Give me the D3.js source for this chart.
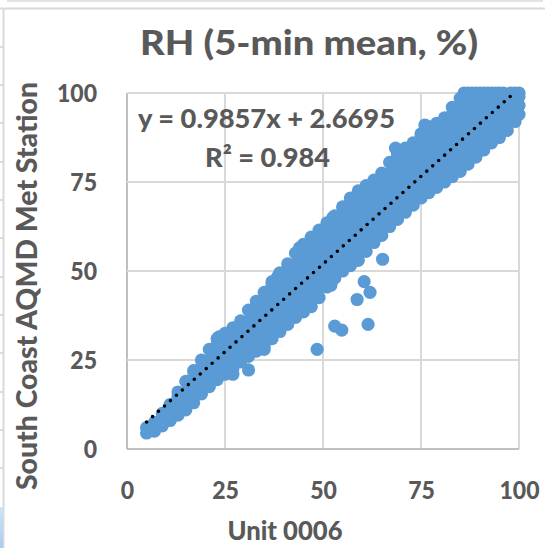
<!DOCTYPE html>
<html>
<head>
<meta charset="utf-8">
<script src="https://cdn.jsdelivr.net/npm/d3@7"></script>
<style>
  html, body { margin: 0; padding: 0; background: #fff; }
  svg { display: block; }
  text { font-family: Lato, "Open Sans", sans-serif; font-weight: bold; fill: #595959; }
</style>
</head>
<body>
<svg id="chart" width="545" height="548"></svg>
<script>
// RH 5-min means: Unit 0006 (x) vs South Coast AQMD Met Station (y)
// columns of the dense cloud: one x value, the y values read along it
var unitX = [5, 6, 7, 9, 11, 13, 15, 17, 19, 21, 23, 25, 27, 29, 31, 33, 35, 37, 39, 41,
  43, 45, 47, 49, 51, 53, 55, 57, 59, 61, 63, 65, 67, 69, 71, 73, 75, 77, 79, 81,
  83, 85, 87, 89, 91, 93, 95, 97, 99, 100];
var stationY = [
  [4.5, 6], [5.5], [5, 7.5], [6.5, 8.5, 10], [8, 10.5, 12.5],
  [9.5, 12, 14.5, 16], [11, 13.5, 16, 19], [13, 15.5, 18, 20.5, 22],
  [15.5, 18, 20.5, 23, 25], [17.5, 20, 22.5, 25, 28],
  [19.5, 22, 24.5, 27, 29.5, 31], [21, 23.5, 26, 28.5, 31, 32.5],
  [22.5, 25, 27.5, 30, 32.5, 34], [24.5, 27, 29.5, 32, 34.5, 36],
  [26, 28.5, 31, 33.5, 36, 39], [27.5, 30, 32.5, 35, 37.5, 40, 41.5],
  [29, 31.5, 34, 36.5, 39, 41.5, 44], [31, 33.5, 36, 38.5, 41, 43.5, 46, 47],
  [33, 35.5, 38, 40.5, 43, 45.5, 48, 49.5], [35, 37.5, 40, 42.5, 45, 47.5, 50, 52],
  [37, 39.5, 42, 44.5, 47, 49.5, 52, 55], [38.5, 41, 43.5, 46, 48.5, 51, 53.5, 56, 57.5],
  [40, 42.5, 45, 47.5, 50, 52.5, 55, 57.5, 59.5], [42.5, 45, 47.5, 50, 52.5, 55, 57.5, 60, 61.5],
  [45.5, 48, 50.5, 53, 55.5, 58, 60.5, 63.5], [48, 50.5, 53, 55.5, 58, 60.5, 63, 65.5],
  [50, 52.5, 55, 57.5, 60, 62.5, 65, 68], [51.5, 54, 56.5, 59, 61.5, 64, 66.5, 69, 70.5],
  [53, 55.5, 58, 60.5, 63, 65.5, 68, 70.5, 72.5], [55.5, 58, 60.5, 63, 65.5, 68, 70.5, 74],
  [58, 60.5, 63, 65.5, 68, 70.5, 73, 75.5], [60, 62.5, 65, 67.5, 70, 72.5, 75, 77.5],
  [62.5, 65, 67.5, 70, 72.5, 75, 77.5, 80.5], [64.5, 67, 69.5, 72, 74.5, 77, 79.5, 82, 83],
  [66.5, 69, 71.5, 74, 76.5, 79, 81.5, 84.5], [68.5, 71, 73.5, 76, 78.5, 81, 83.5, 86],
  [70.5, 73, 75.5, 78, 80.5, 83, 85.5, 88.5], [72, 74.5, 77, 79.5, 82, 84.5, 87, 89.5, 90.5],
  [73.5, 76, 78.5, 81, 83.5, 86, 88.5, 91.5], [75, 77.5, 80, 82.5, 85, 87.5, 90, 93],
  [76.5, 79, 81.5, 84, 86.5, 89, 91.5, 94, 96], [78, 80.5, 83, 85.5, 88, 90.5, 93, 95.5, 98.5],
  [80, 82.5, 85, 87.5, 90, 92.5, 95, 97.5, 100], [82, 84.5, 87, 89.5, 92, 94.5, 97, 100],
  [84, 86.5, 89, 91.5, 94, 96.5, 99, 100], [86, 88.5, 91, 93.5, 96, 98.5, 100],
  [87.5, 90, 92.5, 95, 97.5, 100], [89.5, 92, 94.5, 97, 99.5],
  [92, 94.5, 97, 99.5, 100], [94, 96.5, 99, 100]
];
// single points sticking out of the cloud edges
var edgeX = [23.5, 38.5, 44, 52.5, 68.5, 76, 86, 88, 90, 92, 94, 96, 98, 27, 52, 35];
var edgeY = [31.5, 48.5, 56.5, 65, 84.5, 91, 100, 100, 100, 100, 100, 100, 100, 21, 46, 28];
// points off the main cloud
var outlierX = [31, 48.5, 53, 54.8, 58.7, 60.5, 62, 61.5, 65.2];
var outlierY = [22.2, 28, 34.5, 33.4, 42, 47, 44, 35, 53.3];

var slope = 0.9857, intercept = 2.6695, rSquared = 0.984;
var trendRange = [5, 100];
var ticks = [0, 25, 50, 75, 100];

var svg = d3.select("#chart");

// spreadsheet bits around the chart object
svg.append("rect").attr("x", 7).attr("y", 0).attr("width", 536).attr("height", 2).attr("fill", "#e3e3e3");
svg.append("line").attr("x1", 0).attr("x2", 545).attr("y1", 8.5).attr("y2", 8.5)
  .attr("stroke", "#d9d9d9").attr("stroke-width", 2);
svg.append("line").attr("x1", 3.5).attr("x2", 3.5).attr("y1", 9).attr("y2", 548)
  .attr("stroke", "#d9d9d9").attr("stroke-width", 2);
[47, 85, 123, 162, 200, 238, 277, 315, 353, 392, 430, 468].forEach(function(r) {
  svg.append("line").attr("x1", 0).attr("x2", 3).attr("y1", r).attr("y2", r)
    .attr("stroke", "#d0d0d0").attr("stroke-width", 1.5);
});
var grad = svg.append("defs").append("linearGradient").attr("id", "cellBlue")
  .attr("x1", 0).attr("x2", 0).attr("y1", 0).attr("y2", 1);
grad.append("stop").attr("offset", 0).attr("stop-color", "#cfe3f5");
grad.append("stop").attr("offset", 1).attr("stop-color", "#a9cdef");
svg.append("rect").attr("x", 0).attr("y", 507).attr("width", 3).attr("height", 41).attr("fill", "url(#cellBlue)");

var x = d3.scaleLinear().domain([0, 100]).range([127, 519]);
var y = d3.scaleLinear().domain([0, 100]).range([449, 93]);

// gridlines
var grid = svg.append("g");
grid.selectAll(".vg").data(ticks).enter().append("line")
  .attr("x1", function(d) { return x(d); }).attr("x2", function(d) { return x(d); })
  .attr("y1", y(0)).attr("y2", y(100))
  .attr("stroke", function(d) { return d === 0 ? "#bfbfbf" : "#d9d9d9"; })
  .attr("stroke-width", 2);
grid.selectAll(".hg").data(ticks).enter().append("line")
  .attr("x1", x(0)).attr("x2", x(100))
  .attr("y1", function(d) { return y(d); }).attr("y2", function(d) { return y(d); })
  .attr("stroke", function(d) { return d === 0 ? "#bfbfbf" : "#d9d9d9"; })
  .attr("stroke-width", 2);

// axes (labels only)
var xAxis = svg.append("g").attr("transform", "translate(0," + y(0) + ")")
  .call(d3.axisBottom(x).tickValues(ticks).tickSize(0).tickPadding(33));
var yAxis = svg.append("g").attr("transform", "translate(" + x(0) + ",0)")
  .call(d3.axisLeft(y).tickValues(ticks).tickSize(0).tickPadding(30));
[xAxis, yAxis].forEach(function(a) {
  a.select(".domain").remove();
  a.selectAll("text").attr("fill", "#595959").style("font-size", "24px")
    .style("font-family", "Lato, sans-serif").style("font-weight", "900")
    .each(function() {
      var t = d3.select(this);
      t.attr("textLength", this.getComputedTextLength() * 0.96).attr("lengthAdjust", "spacingAndGlyphs");
    });
});
yAxis.selectAll("text").attr("dy", "0.36em");

// points
var pts = [];
unitX.forEach(function(xv, i) {
  stationY[i].forEach(function(yv) { pts.push([xv, yv]); });
});
edgeX.forEach(function(xv, i) { pts.push([xv, edgeY[i]]); });
outlierX.forEach(function(xv, i) { pts.push([xv, outlierY[i]]); });

svg.append("g").selectAll("circle").data(pts).enter().append("circle")
  .attr("cx", function(d) { return x(d[0]); })
  .attr("cy", function(d) { return y(d[1]); })
  .attr("r", 6.6)
  .attr("fill", "#5b9bd5");

// linear trendline, dotted, clipped to plot area
svg.append("clipPath").attr("id", "plotClip").append("rect")
  .attr("x", x(0)).attr("y", y(100)).attr("width", x(100) - x(0)).attr("height", y(0) - y(100));
var trend = trendRange.map(function(v) { return [v, slope * v + intercept]; });
svg.append("path").datum(trend)
  .attr("clip-path", "url(#plotClip)")
  .attr("d", d3.line().x(function(d) { return x(d[0]); }).y(function(d) { return y(d[1]); }))
  .attr("fill", "none").attr("stroke", "#000").attr("stroke-width", 3.6)
  .attr("stroke-linecap", "round").attr("stroke-dasharray", "0 8");

// text: size from the cap height in the reference, squeezed to its width
function placeText(t, target, size) {
  t.style("font-size", size + "px").style("font-weight", "900");
  return t.attr("textLength", target).attr("lengthAdjust", "spacingAndGlyphs");
}
placeText(svg.append("text").attr("x", 309).attr("y", 55).attr("text-anchor", "middle")
  .text("RH (5-min mean, %)"), 338, 35);
placeText(svg.append("text").attr("x", 266.5).attr("y", 128).attr("text-anchor", "middle")
  .text("y = " + slope + "x + " + intercept), 257, 27);
placeText(svg.append("text").attr("x", 267.5).attr("y", 167).attr("text-anchor", "middle")
  .text("R² = " + rSquared), 125, 27);
placeText(svg.append("text").attr("x", 285).attr("y", 540).attr("text-anchor", "middle")
  .text("Unit 0006"), 115, 27);
placeText(svg.append("text").attr("transform", "translate(37,286) rotate(-90)")
  .attr("text-anchor", "middle").text("South Coast AQMD Met Station"), 408, 28);
</script>
</body>
</html>
